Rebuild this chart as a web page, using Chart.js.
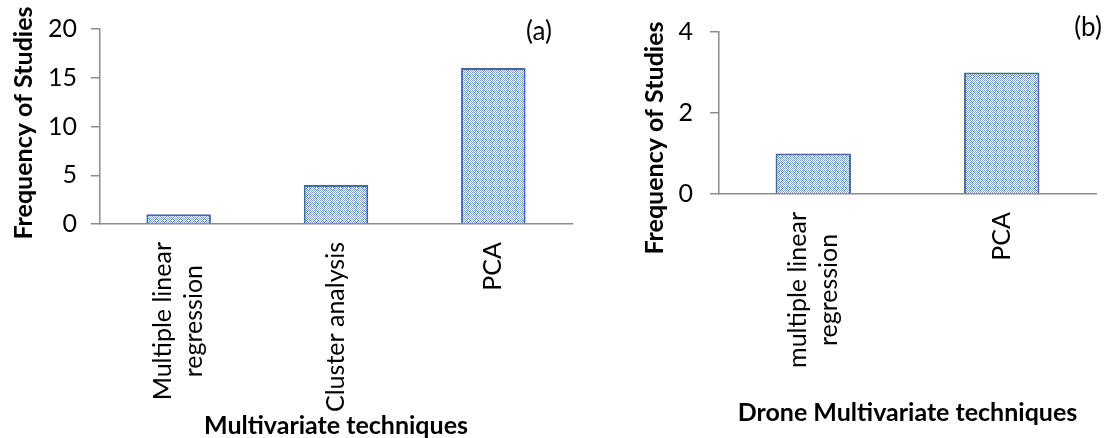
<!DOCTYPE html>
<html>
<head>
<meta charset="utf-8">
<script src="https://cdn.jsdelivr.net/npm/chart.js@4.4.1/dist/chart.umd.min.js"></script>
<style>
  html, body { margin: 0; padding: 0; background: #fff; }
  #wrap { position: relative; width: 1108px; height: 438px; }
  .box { position: absolute; top: 0; height: 438px; }
  #boxA { left: 0; width: 600px; }
  #boxB { left: 600px; width: 508px; }
</style>
</head>
<body>
<div id="wrap">
  <div class="box" id="boxA"><canvas id="chartA"></canvas></div>
  <div class="box" id="boxB"><canvas id="chartB"></canvas></div>
</div>
<script>
// panel (a)
const techniquesA = [["Multiple linear", "regression"], "Cluster analysis", "PCA"];
const studiesA = [1, 4, 16];
const ticksA = [0, 5, 10, 15, 20];

// panel (b)
const techniquesB = [["multiple linear", "regression"], "PCA"];
const studiesB = [1, 3];
const ticksB = [0, 2, 4];

const FONT = "Lato, 'Liberation Sans', sans-serif";
const AXIS_GRAY = "#8c8c8c";
const BAR_EDGE = "#3f69a8";

// small dotted-diamond fill like the office pattern
function makePattern() {
  const c = document.createElement("canvas");
  c.width = 8;
  c.height = 8;
  const g = c.getContext("2d");
  g.fillStyle = "#ffffff";
  g.fillRect(0, 0, 8, 8);
  for (let x = 0; x < 8; x++) {
    for (let y = 0; y < 8; y++) {
      const d = Math.abs(x - 4) + Math.abs(y - 4);
      if (d === 2) {
        g.fillStyle = "#4472c4";
        g.fillRect(x, y, 1, 1);
      } else if (d > 2 && (x + y) % 2 === 0) {
        g.fillStyle = "#7f9fd6";
        g.fillRect(x, y, 1, 1);
      }
    }
  }
  return g.createPattern(c, "repeat");
}

// vertical category labels, lines centred on each other
const rotatedTicks = {
  id: "rotatedTicks",
  afterDraw(chart, args, opts) {
    const ctx = chart.ctx;
    const scale = chart.scales.x;
    ctx.save();
    ctx.font = opts.size + "px " + FONT;
    ctx.fillStyle = "#000";
    ctx.textAlign = "center";
    ctx.textBaseline = "middle";
    chart.data.labels.forEach((label, i) => {
      const lines = Array.isArray(label) ? label : [label];
      const widest = Math.max(...lines.map((l) => ctx.measureText(l).width));
      const cx = scale.getPixelForTick(i);
      const cy = scale.top + opts.gap + widest / 2;
      lines.forEach((line, j) => {
        ctx.save();
        ctx.translate(cx + (j - (lines.length - 1) / 2) * opts.lineHeight, cy);
        ctx.rotate(-Math.PI / 2);
        ctx.fillText(line, 0, 0);
        ctx.restore();
      });
    });
    ctx.restore();
  }
};

// y title and the (a)/(b) tags
const extraText = {
  id: "extraText",
  afterDraw(chart, args, opts) {
    const ctx = chart.ctx;
    opts.items.forEach((it) => {
      ctx.save();
      ctx.font = (it.bold ? "bold " : "") + it.size + "px " + FONT;
      ctx.fillStyle = "#000";
      ctx.textAlign = "center";
      ctx.textBaseline = "middle";
      ctx.translate(it.x, it.y);
      if (it.rotate) ctx.rotate(-Math.PI / 2);
      ctx.fillText(it.text, 0, 0);
      ctx.restore();
    });
  }
};

function buildChart(id, labels, values, ticks, cfg) {
  return new Chart(document.getElementById(id), {
    type: "bar",
    data: {
      labels: labels,
      datasets: [{
        data: values,
        backgroundColor: makePattern(),
        borderColor: BAR_EDGE,
        borderWidth: 2,
        categoryPercentage: 1,
        barPercentage: cfg.barPct
      }]
    },
    options: {
      responsive: true,
      maintainAspectRatio: false,
      animation: false,
      layout: { padding: { top: cfg.top, right: cfg.right, left: 0, bottom: 0 } },
      plugins: {
        legend: { display: false },
        tooltip: { enabled: false },
        rotatedTicks: { size: 25, gap: 18, lineHeight: 31 },
        extraText: { items: cfg.texts }
      },
      scales: {
        x: {
          afterFit: (s) => { s.height = cfg.xHeight; },
          grid: { display: false },
          border: { display: true, color: AXIS_GRAY, width: 1.5 },
          ticks: { display: false },
          title: {
            display: true,
            text: cfg.xTitle,
            color: "#000",
            font: { family: FONT, size: 25, weight: "bold", lineHeight: 1 },
            padding: { top: 0, bottom: cfg.xTitlePad }
          }
        },
        y: {
          min: ticks[0],
          max: ticks[ticks.length - 1],
          afterBuildTicks: (s) => { s.ticks = ticks.map((v) => ({ value: v })); },
          afterFit: (s) => { s.width = cfg.yWidth; },
          grid: {
            drawOnChartArea: false,
            drawTicks: true,
            tickLength: 9,
            color: AXIS_GRAY,
            lineWidth: 1.5
          },
          border: { display: true, color: AXIS_GRAY, width: 1.5 },
          ticks: {
            padding: cfg.tickPad,
            color: "#000",
            font: { family: FONT, size: 25 }
          }
        }
      }
    },
    plugins: [rotatedTicks, extraText]
  });
}

buildChart("chartA", techniquesA, studiesA, ticksA, {
  barPct: 0.41,
  top: 20,
  right: 28,
  xHeight: 214,
  yWidth: 100,
  tickPad: 14,
  xTitle: "Multivariate techniques",
  xTitlePad: 0,
  texts: [
    { text: "Frequency of Studies", x: 24, y: 123, size: 25, bold: true, rotate: true },
    { text: "(a)", x: 539, y: 32, size: 26 }
  ]
});

buildChart("chartB", techniquesB, studiesB, ticksB, {
  barPct: 0.40,
  top: 29,
  right: 12,
  xHeight: 244,
  yWidth: 119,
  tickPad: 17,
  xTitle: "Drone Multivariate techniques",
  xTitlePad: 13,
  texts: [
    { text: "Frequency of Studies", x: 55, y: 138, size: 25, bold: true, rotate: true },
    { text: "(b)", x: 488, y: 28, size: 26 }
  ]
});
</script>
</body>
</html>
